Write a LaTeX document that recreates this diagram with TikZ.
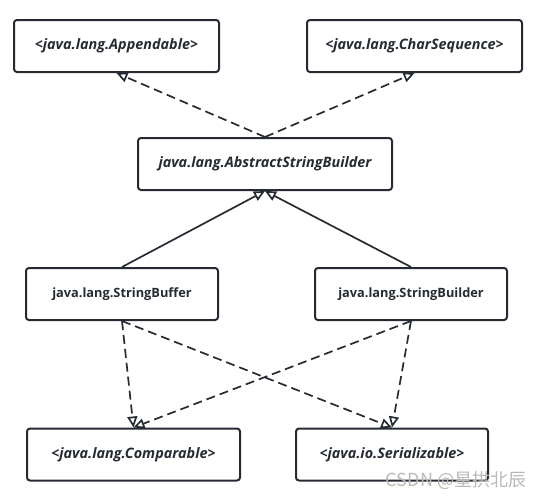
\documentclass[tikz,border=0pt]{standalone}
\usepackage{fontspec}
\setmainfont{Open Sans}
\newfontfamily\cjkfont{Noto Sans CJK SC}
\usetikzlibrary{arrows.meta,positioning}
\definecolor{umlline}{HTML}{262B33}

\begin{document}
\begin{tikzpicture}[x=1pt,y=-1pt,>={Triangle[open,length=11pt,width=10pt]},line width=1.7pt,
                    color=umlline,font=\bfseries\fontsize{12.8}{15}\selectfont]
  %\tikzstyle{cls}=[draw,rounded corners=3pt]
	\tikzstyle{cls}=[draw,rounded corners=3pt,minimum height=52pt,line width=2pt,fill=white]
	\tikzstyle{iface}=[cls,font=\bfseries\itshape\fontsize{14.4}{16}\selectfont]
	\tikzstyle{impl}=[->,dash pattern=on 9pt off 5pt]

  \useasboundingbox (0,0) rectangle (541,498);

  \node[iface,minimum width=205pt] (app) at (116.5,46)  {<java.lang.Appendable>};
  \node[iface,minimum width=215pt] (chs) at (414.5,46)  {<java.lang.CharSequence>};
  \node[iface,minimum width=254pt] (asb) at (265,164)   {java.lang.AbstractStringBuilder};
  \node[cls,minimum width=192pt]   (buf) at (122,294)   {java.lang.StringBuffer};
  \node[cls,minimum width=192pt]   (bld) at (411,294)   {java.lang.StringBuilder};
  \node[iface,minimum width=213pt] (cmp) at (133.5,454.5) {<java.lang.Comparable>};
  \node[iface,minimum width=192pt] (ser) at (392,454.5) {<java.io.Serializable>};

  \path (asb.north) edge [impl] (app.south)
        (asb.north) edge [impl] (chs.south)
        (buf.north) edge [->]   (asb.south)
        (bld.north) edge [->]   (asb.south)
        (buf.south) edge [impl] (cmp.north)
        (buf.south) edge [impl] (ser.north)
        (bld.south) edge [impl] (cmp.north)
        (bld.south) edge [impl] (ser.north);
        % (cmp) edge [bend left] (ser)

  \node[font=\cjkfont\fontsize{18}{18}\selectfont,text=gray!55] (mark) at (456,480) {CSDN @星拱北辰};
\end{tikzpicture}
\end{document}
